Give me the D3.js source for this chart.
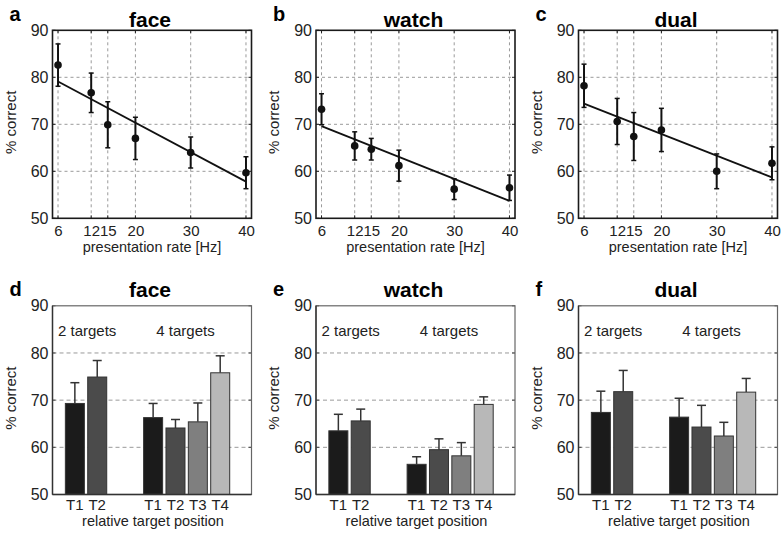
<!DOCTYPE html>
<html>
<head>
<meta charset="utf-8">
<script src="https://cdn.jsdelivr.net/npm/d3@7"></script>
<style>
  body { margin: 0; background: #fff; }
  svg { font-family: "Liberation Sans", Arial, sans-serif; }
  .tick text { fill: #222; }
  .domain { display: none; }
</style>
</head>
<body>
<svg id="chart" width="783" height="538"></svg>
<script>
// --- data ---
var rates = [6, 12, 15, 20, 30, 40];
var rateTicks = [50, 60, 70, 80, 90];

var faceRate = [82.6, 76.7, 69.9, 67.0, 64.0, 59.7];
var faceRateErr = [4.5, 4.2, 4.9, 4.5, 3.3, 3.4];
var faceFit = [79.1, 57.8];

var watchRate = [73.2, 65.4, 64.7, 61.2, 56.2, 56.5];
var watchRateErr = [3.3, 3.0, 2.3, 3.3, 2.2, 2.7];
var watchFit = [69.6, 53.7];

var dualRate = [78.2, 70.6, 67.4, 68.8, 60.0, 61.7];
var dualRateErr = [4.6, 4.9, 5.1, 4.6, 3.7, 3.5];
var dualFit = [74.4, 58.7];

var targetPos = [1, 2, 4.5, 5.5, 6.5, 7.5];
var targetLabels = ["T1", "T2", "T1", "T2", "T3", "T4"];
var targetShade = [0, 1, 0, 1, 2, 3];
var groupLabels = ["2 targets", "4 targets"];
var groupPos = [1.55, 5.95];

var faceBars = [69.3, 74.9, 66.3, 64.1, 65.4, 75.8];
var faceBarsErr = [4.4, 3.5, 3.0, 1.8, 4.0, 3.6];
var watchBars = [63.5, 65.6, 56.4, 59.5, 58.2, 69.1];
var watchBarsErr = [3.5, 2.5, 1.6, 2.3, 2.8, 1.6];
var dualBars = [67.4, 71.8, 66.4, 64.3, 62.4, 71.7];
var dualBarsErr = [4.5, 4.5, 4.0, 4.6, 2.9, 2.9];

var shades = ["#1b1b1b", "#4b4b4b", "#7f7f7f", "#b8b8b8"];

// --- layout ---
var svg = d3.select("#chart");
var lefts = [52.5, 316, 578.5];
var boxW = 199;
var topY = [30.3, 218.3];
var botY = [305.8, 494.5];

var ratePanels = [
    {letter: "a", title: "face", vals: faceRate, err: faceRateErr, fit: faceFit},
    {letter: "b", title: "watch", vals: watchRate, err: watchRateErr, fit: watchFit},
    {letter: "c", title: "dual", vals: dualRate, err: dualRateErr, fit: dualFit}
];

var barPanels = [
    {letter: "d", title: "face", vals: faceBars, err: faceBarsErr},
    {letter: "e", title: "watch", vals: watchBars, err: watchBarsErr},
    {letter: "f", title: "dual", vals: dualBars, err: dualBarsErr}
];

function panelText(g, p, x0, letterY, titleY) {
    g.append("text")
        .attr("x", x0 - 43)
        .attr("y", letterY)
        .attr("font-size", 20)
        .attr("font-weight", "bold")
        .text(p.letter);
    g.append("text")
        .attr("x", x0 + boxW / 2 - 2)
        .attr("y", titleY)
        .attr("text-anchor", "middle")
        .attr("font-size", 21)
        .attr("font-weight", "bold")
        .text(p.title);
}

function yLabel(g, x0, y0, y1) {
    g.append("text")
        .attr("transform", `translate(${x0 - 37}, ${(y0 + y1) / 2 - 2}) rotate(-90)`)
        .attr("text-anchor", "middle")
        .attr("font-size", 15)
        .attr("fill", "#222")
        .text("% correct");
}

// --- top row: accuracy vs presentation rate ---
ratePanels.forEach(function(p, i) {
    var x0 = lefts[i];
    var g = svg.append("g");

    var x = d3.scaleLinear().domain([5, 41]).range([x0, x0 + boxW]);
    var y = d3.scaleLinear().domain([50, 90]).range([topY[1], topY[0]]);

    // grid
    g.selectAll(".vg").data(rates).enter().append("line")
        .attr("x1", d => x(d)).attr("x2", d => x(d))
        .attr("y1", topY[0]).attr("y2", topY[1])
        .attr("stroke", "#9a9a9a").attr("stroke-dasharray", "3,3");
    g.selectAll(".hg").data([60, 70, 80]).enter().append("line")
        .attr("x1", x0).attr("x2", x0 + boxW)
        .attr("y1", d => y(d)).attr("y2", d => y(d))
        .attr("stroke", "#9a9a9a").attr("stroke-dasharray", "3,3");

    // inward ticks on all sides
    rateTicks.forEach(function(t) {
        g.append("line").attr("x1", x0).attr("x2", x0 + 3).attr("y1", y(t)).attr("y2", y(t)).attr("stroke", "#222");
        g.append("line").attr("x1", x0 + boxW - 3).attr("x2", x0 + boxW).attr("y1", y(t)).attr("y2", y(t)).attr("stroke", "#222");
    });
    rates.forEach(function(t) {
        g.append("line").attr("x1", x(t)).attr("x2", x(t)).attr("y1", topY[1] - 3).attr("y2", topY[1]).attr("stroke", "#222");
        g.append("line").attr("x1", x(t)).attr("x2", x(t)).attr("y1", topY[0]).attr("y2", topY[0] + 3).attr("stroke", "#222");
    });

    g.append("rect")
        .attr("x", x0).attr("y", topY[0])
        .attr("width", boxW).attr("height", topY[1] - topY[0])
        .attr("fill", "none").attr("stroke", "#1a1a1a").attr("stroke-width", 1.6);

    g.append("g")
        .attr("transform", `translate(0, ${topY[1]})`)
        .call(d3.axisBottom(x).tickValues(rates).tickSize(0).tickPadding(7))
        .selectAll("text").attr("font-size", 15);
    g.append("g")
        .attr("transform", `translate(${x0}, 0)`)
        .call(d3.axisLeft(y).tickValues(rateTicks).tickSize(0).tickPadding(4))
        .selectAll("text").attr("font-size", 16);

    // fit line
    g.append("line")
        .attr("x1", x(rates[0])).attr("y1", y(p.fit[0]))
        .attr("x2", x(rates[rates.length - 1])).attr("y2", y(p.fit[1]))
        .attr("stroke", "#111").attr("stroke-width", 1.8);

    // error bars + points
    rates.forEach(function(r, k) {
        var lo = y(p.vals[k] - p.err[k]), hi = y(p.vals[k] + p.err[k]);
        g.append("line").attr("x1", x(r)).attr("x2", x(r)).attr("y1", lo).attr("y2", hi)
            .attr("stroke", "#111").attr("stroke-width", 2);
        [lo, hi].forEach(function(cy) {
            g.append("line").attr("x1", x(r) - 2.5).attr("x2", x(r) + 2.5).attr("y1", cy).attr("y2", cy)
                .attr("stroke", "#111").attr("stroke-width", 1.5);
        });
    });
    g.selectAll(".pt").data(p.vals).enter().append("circle")
        .attr("cx", (d, k) => x(rates[k]))
        .attr("cy", d => y(d))
        .attr("r", 3.8)
        .attr("fill", "#111");

    panelText(g, p, x0, 20.5, 26.5);
    yLabel(g, x0, topY[0], topY[1]);

    g.append("text")
        .attr("x", x0 + boxW / 2)
        .attr("y", 251.5)
        .attr("text-anchor", "middle")
        .attr("font-size", 14.5)
        .attr("fill", "#222")
        .text("presentation rate [Hz]");
});

// --- bottom row: accuracy per target position ---
barPanels.forEach(function(p, i) {
    var x0 = lefts[i];
    var g = svg.append("g");

    var x = d3.scaleLinear().domain([0, 8.9]).range([x0, x0 + boxW]);
    var y = d3.scaleLinear().domain([50, 90]).range([botY[1], botY[0]]);
    var bw = x(0.85) - x(0);

    g.selectAll(".hg").data([60, 70, 80]).enter().append("line")
        .attr("x1", x0).attr("x2", x0 + boxW)
        .attr("y1", d => y(d)).attr("y2", d => y(d))
        .attr("stroke", "#9a9a9a").attr("stroke-dasharray", "4,3");

    rateTicks.forEach(function(t) {
        g.append("line").attr("x1", x0).attr("x2", x0 + 3).attr("y1", y(t)).attr("y2", y(t)).attr("stroke", "#444");
        g.append("line").attr("x1", x0 + boxW - 3).attr("x2", x0 + boxW).attr("y1", y(t)).attr("y2", y(t)).attr("stroke", "#444");
    });

    // error bars (upper only), drawn behind the bars
    targetPos.forEach(function(tp, k) {
        var top = y(p.vals[k] + p.err[k]);
        g.append("line").attr("x1", x(tp)).attr("x2", x(tp))
            .attr("y1", y(p.vals[k])).attr("y2", top)
            .attr("stroke", "#333").attr("stroke-width", 1.5);
        g.append("line").attr("x1", x(tp) - 4.5).attr("x2", x(tp) + 4.5)
            .attr("y1", top).attr("y2", top)
            .attr("stroke", "#333").attr("stroke-width", 1.5);
    });

    g.selectAll(".bar").data(p.vals).enter().append("rect")
        .attr("x", (d, k) => x(targetPos[k]) - bw / 2)
        .attr("y", d => y(d))
        .attr("width", bw)
        .attr("height", d => y(50) - y(d))
        .attr("fill", (d, k) => shades[targetShade[k]])
        .attr("stroke", "#333")
        .attr("stroke-width", 1);

    g.append("rect")
        .attr("x", x0).attr("y", botY[0])
        .attr("width", boxW).attr("height", botY[1] - botY[0])
        .attr("fill", "none").attr("stroke", "#666").attr("stroke-width", 1.2);
    g.append("line")
        .attr("x1", x0).attr("x2", x0).attr("y1", botY[0]).attr("y2", botY[1])
        .attr("stroke", "#333").attr("stroke-width", 1.4);
    g.append("line")
        .attr("x1", x0).attr("x2", x0 + boxW).attr("y1", botY[1]).attr("y2", botY[1])
        .attr("stroke", "#333").attr("stroke-width", 1.4);

    g.append("g")
        .attr("transform", `translate(${x0}, 0)`)
        .call(d3.axisLeft(y).tickValues(rateTicks).tickSize(0).tickPadding(4))
        .selectAll("text").attr("font-size", 16);

    g.selectAll(".tl").data(targetLabels).enter().append("text")
        .attr("x", (d, k) => x(targetPos[k]))
        .attr("y", 510)
        .attr("text-anchor", "middle")
        .attr("font-size", 15)
        .attr("fill", "#222")
        .text(d => d);

    g.selectAll(".gl").data(groupLabels).enter().append("text")
        .attr("x", (d, k) => x(groupPos[k]))
        .attr("y", 336)
        .attr("text-anchor", "middle")
        .attr("font-size", 15)
        .attr("fill", "#222")
        .text(d => d);

    g.append("text")
        .attr("x", x0 + boxW / 2 + 1)
        .attr("y", 525.5)
        .attr("text-anchor", "middle")
        .attr("font-size", 14.5)
        .attr("fill", "#222")
        .text("relative target position");

    panelText(g, p, x0, 295.5, 297);
    yLabel(g, x0, botY[0], botY[1]);
});
</script>
</body>
</html>
